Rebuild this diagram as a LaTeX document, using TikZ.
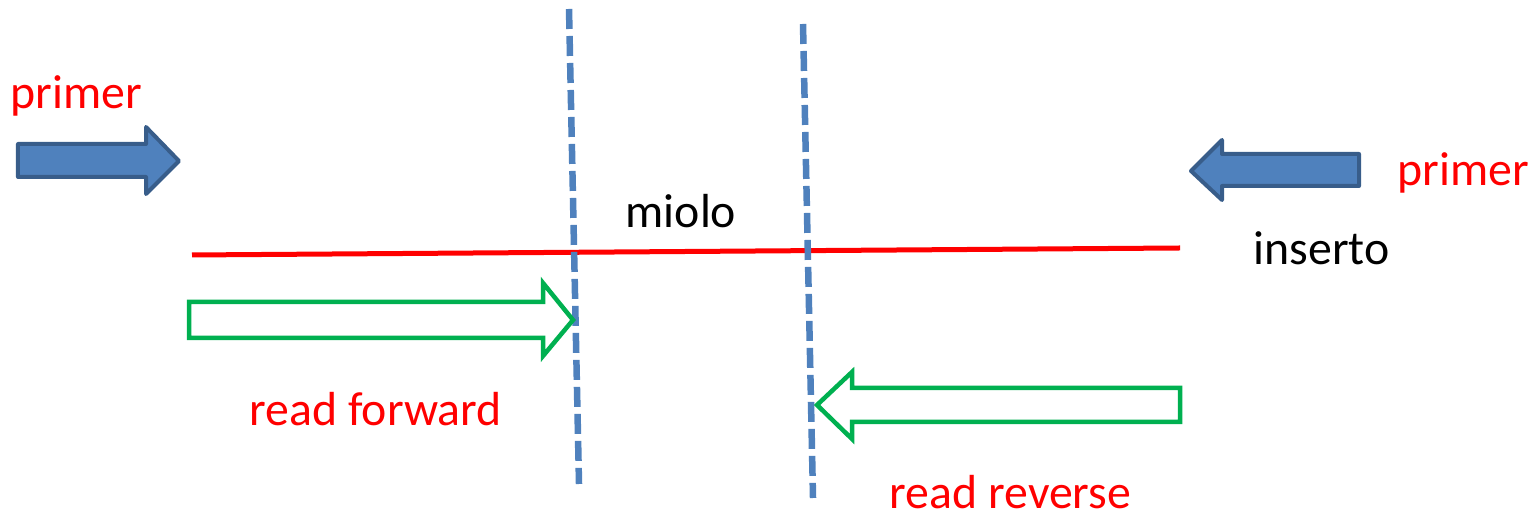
\documentclass[tikz,border=0pt]{standalone}
\usepackage{fontspec}
\setmainfont{Carlito}
\definecolor{primerfill}{HTML}{4F81BD}
\definecolor{primerline}{HTML}{385D8A}
\definecolor{readgreen}{HTML}{00B050}
\begin{document}
\begin{tikzpicture}[
    primerarrow/.style={fill=primerfill, draw=primerline, line width=0.04cm, line join=round},
    readarrow/.style={draw=readgreen, line width=0.045cm, line join=miter},
    cutline/.style={draw=primerfill, line width=0.065cm, dash pattern=on 0.2cm off 0.07cm},
    redtext/.style={text=red, anchor=base west, inner sep=0pt},
    blacktext/.style={text=black, anchor=base west, inner sep=0pt},
    every node/.style={font=\fontsize{13.6}{16}\selectfont}
]
        \useasboundingbox (0,0) rectangle (15.37,-5.18);

        %% PRIMERS
        % Left primer
        \draw[primerarrow] (0.18,-1.44) -- (1.46,-1.44) -- (1.46,-1.27) -- (1.79,-1.61)
            -- (1.46,-1.94) -- (1.46,-1.77) -- (0.18,-1.77) -- cycle;
        \node[redtext] (primerfwd) at (0.10,-1.09) {primer};
        % Right primer
        \draw[primerarrow] (13.59,-1.54) -- (12.22,-1.54) -- (12.22,-1.40) -- (11.91,-1.71)
            -- (12.22,-2.00) -- (12.22,-1.86) -- (13.59,-1.86) -- cycle;
        \node[redtext] (primerrev) at (13.97,-1.86) {primer};

        %% INSERT
        \draw[red, line width=0.05cm] (1.92,-2.55) -- (11.80,-2.48);
        \node[blacktext] (miolo) at (6.25,-2.28) {miolo};
        \node[blacktext] (inserto) at (12.53,-2.65) {inserto};

        %% CUT LINES
        \draw[cutline] (5.69,-0.09) -- (5.79,-4.84);
        \draw[cutline] (8.03,-0.24) -- (8.13,-4.98);

        %% READS
        % Forward
        \draw[readarrow] (1.89,-3.02) -- (5.43,-3.02) -- (5.43,-2.83) -- (5.73,-3.20)
            -- (5.43,-3.56) -- (5.43,-3.38) -- (1.89,-3.38) -- cycle;
        \node[redtext] (readfwd) at (2.49,-4.26) {read forward};
        % Reverse
        \draw[readarrow] (11.80,-3.88) -- (8.52,-3.88) -- (8.52,-3.72) -- (8.17,-4.05)
            -- (8.52,-4.39) -- (8.52,-4.22) -- (11.80,-4.22) -- cycle;
        \node[redtext] (readrev) at (8.89,-5.09) {read reverse};
    \end{tikzpicture}
\end{document}
